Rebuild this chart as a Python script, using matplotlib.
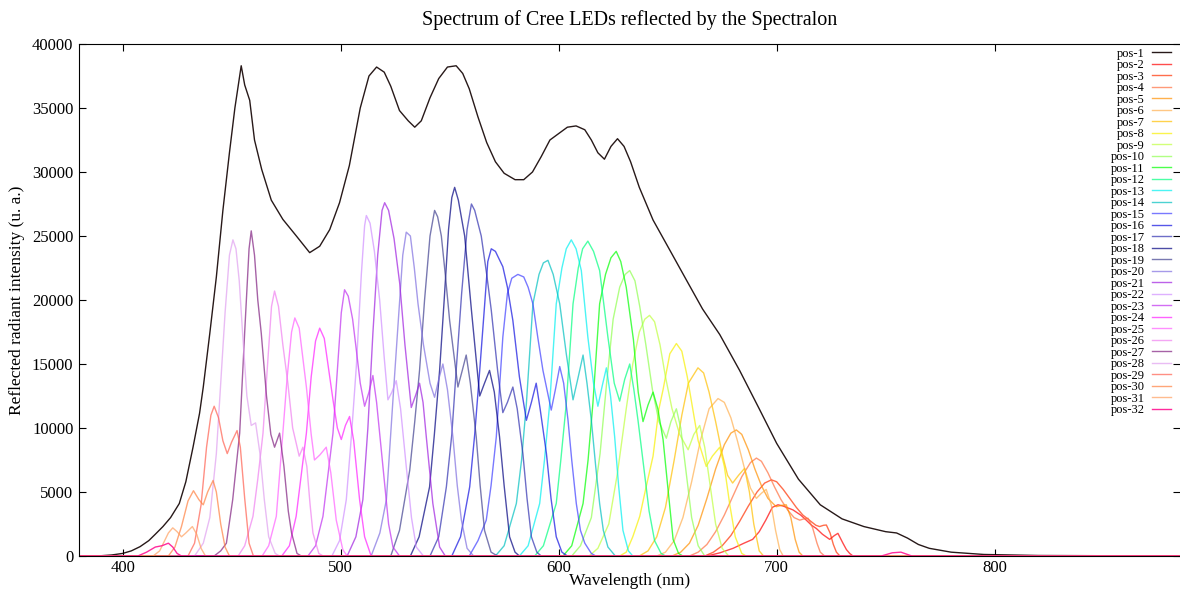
import matplotlib
matplotlib.use("Agg")
import matplotlib.pyplot as plt

plt.rcParams["font.family"] = ["Liberation Serif", "DejaVu Serif"]

# wavelength (nm) / reflected intensity (u. a.)
wl_01 = [380, 390, 395, 400, 404, 408, 412, 415, 418.5, 422, 426, 429, 432.3, 435.3, 437, 440, 443, 446,
         449, 451.5, 454.4, 456, 458.3, 460.5, 463.8, 468.2, 473.5, 479.7, 485.8, 490.4, 495, 499.5, 504,
         509, 513, 516.5, 520, 523, 527, 531, 534, 537, 541, 545, 549, 553, 556, 559, 563, 567, 571, 575,
         580, 584, 588, 592, 596, 600, 604, 608, 612, 615, 618, 621, 624, 627, 630, 633, 637, 643.3, 650,
         658.6, 666, 673.9, 683, 692, 700, 710, 720, 730, 740, 750, 755, 760, 765, 770, 780, 795, 820, 885]
iv_01 = [0, 20, 80, 200, 400, 730, 1200, 1700, 2300, 3000, 4100, 5800, 8500, 11150, 13200, 17400, 21800, 27000,
         31500, 35000, 38300, 36800, 35600, 32500, 30200, 27800, 26300, 25000, 23700, 24200, 25500, 27600, 30500,
         35000, 37500, 38200, 37800, 36700, 34800, 34000, 33500, 34000, 35800, 37300, 38200, 38300, 37700, 36500,
         34300, 32300, 30800, 29900, 29400, 29400, 30000, 31200, 32500, 33000, 33500, 33600, 33300, 32500, 31500,
         31000, 32000, 32600, 32000, 30800, 28800, 26250, 24200, 21560, 19300, 17300, 14500, 11500, 8800, 6000,
         4000, 2900, 2300, 1900, 1800, 1400, 900, 600, 300, 120, 40, 0]

wl_02 = [380, 668, 674, 680, 685, 689, 692, 695, 698, 700.6, 703, 707.5, 711, 713.6, 716, 718.2, 721, 724.3,
         726.5, 728.1, 730.4, 732, 733.5, 735, 885]
iv_02 = [0, 0, 250, 600, 1000, 1300, 1900, 2800, 3800, 4000, 3900, 3600, 3200, 2800, 2400, 2150, 1700, 1300,
         1600, 1770, 1000, 500, 200, 0, 0]

wl_03 = [380, 667, 671, 675, 679, 683, 687, 691, 694.5, 697.6, 700, 703, 706, 709, 712, 715, 718, 719.7, 721.5,
         722.8, 724.5, 726, 727.4, 729, 885]
iv_03 = [0, 0, 300, 800, 1600, 2700, 3900, 5000, 5700, 5950, 5800, 5200, 4500, 3800, 3200, 2800, 2400, 2300, 2400,
         2420, 1800, 900, 300, 0, 0]

wl_04 = [380, 660, 664, 668, 672, 676, 680, 684, 688, 690.7, 693, 696, 699, 702, 705, 708, 710.6, 712.5, 714.4,
         716.5, 718.5, 720, 722, 885]
iv_04 = [0, 0, 300, 900, 1900, 3200, 4700, 6200, 7300, 7650, 7400, 6500, 5400, 4400, 3600, 3000, 2800, 2900, 2950,
         2200, 1000, 300, 0, 0]

wl_05 = [380, 652, 656, 660, 664, 668, 672, 676, 679, 681.5, 684, 687, 690, 693, 696, 699.8, 702, 704.4, 706.5,
         708.5, 710.3, 712, 885]
iv_05 = [0, 0, 300, 1000, 2400, 4500, 6800, 8700, 9600, 9850, 9500, 8300, 6800, 5500, 4500, 3850, 3950, 4000, 3000,
         1300, 300, 0, 0]

wl_06 = [380, 645, 649, 653, 657, 661, 665, 669, 673.1, 676, 679, 682, 685, 688, 690.7, 693, 695.2, 697.5, 699.5,
         701.4, 703, 885]
iv_06 = [0, 0, 300, 1200, 3000, 5800, 9000, 11500, 12300, 12000, 10800, 9000, 7000, 5300, 4500, 4900, 5200, 4000,
         2000, 500, 0, 0]

wl_07 = [380, 637, 641, 645, 649, 653, 656.5, 659.5, 663.9, 666.5, 669, 672, 675, 677.5, 679.8, 682.5, 685.3, 687.5,
         689.5, 692, 694, 885]
iv_07 = [0, 0, 400, 1500, 3800, 7500, 11000, 13500, 14700, 14300, 12800, 10500, 8000, 6300, 5700, 6300, 6850, 5000,
         2500, 400, 0, 0]

wl_08 = [380, 628, 631, 634, 637.2, 640, 643.3, 646, 647.9, 651, 654, 656.5, 659, 661.5, 664, 667.7, 670.5, 673.9,
         676, 678.5, 681, 684, 686, 885]
iv_08 = [0, 0, 300, 1500, 3100, 5300, 7800, 11500, 13000, 15800, 16600, 16000, 14000, 11500, 9000, 7000, 7800, 8500,
         7000, 4000, 1500, 200, 0, 0]

wl_09 = [380, 614, 618, 623, 627, 631, 634, 637, 639.5, 641.7, 644, 646.5, 649, 652, 655.5, 659.4, 662, 664.7, 667,
         669.5, 672, 675, 678, 885]
iv_09 = [0, 0, 600, 2500, 6500, 11500, 15000, 17500, 18500, 18800, 18300, 16500, 14000, 11500, 9500, 8300, 9500,
         10200, 8500, 5500, 2500, 600, 0, 0]

wl_10 = [380, 606, 610, 615, 619, 622, 625, 628, 630.5, 632.6, 635, 637.2, 640, 643, 646, 649.4, 651.5, 654, 656,
         658.5, 661, 664, 667, 885]
iv_10 = [0, 0, 800, 3000, 8000, 13500, 18500, 21000, 22000, 22300, 21500, 19500, 16500, 13000, 10500, 9200, 10500,
         11500, 10000, 6500, 3000, 800, 0, 0]

wl_11 = [380, 602, 606, 611.2, 613.5, 615.7, 618.8, 621.5, 624, 626.4, 628.5, 631, 634.3, 636.5, 638.7, 641, 643.3,
         645.5, 647.9, 650, 652.5, 655, 657, 885]
iv_11 = [0, 0, 800, 4100, 7500, 11900, 19700, 22000, 23300, 23800, 23000, 21000, 16900, 12800, 10500, 11800, 12800,
         11500, 9100, 5500, 1300, 200, 0, 0]

wl_12 = [380, 589, 593, 598.9, 601, 603.5, 606.6, 609, 611, 613.4, 616, 618.8, 622.6, 625.5, 628, 630.3, 632.6,
         634.5, 636.4, 639, 641.5, 644, 647, 649, 885]
iv_12 = [0, 0, 800, 4100, 7500, 11900, 19700, 22500, 24000, 24600, 23800, 22300, 17100, 13500, 12100, 13800, 15000,
         13000, 10600, 7000, 3500, 1200, 200, 0, 0]

wl_13 = [380, 582, 586, 591.3, 593.5, 595.9, 598.9, 601.5, 603.5, 605.8, 608, 610.4, 613.4, 616, 618, 620, 621.9,
         623.8, 625.7, 627.5, 629.5, 632, 634, 885]
iv_13 = [0, 0, 800, 4100, 7500, 11900, 19700, 22500, 24000, 24700, 24000, 22300, 17100, 13500, 11700, 13300, 14700,
         12500, 9300, 5500, 2000, 400, 0, 0]

wl_14 = [380, 571, 575, 580.6, 583, 585.2, 588.2, 591, 593, 595.1, 597.5, 600.5, 603.5, 606.6, 609, 611.2, 613, 615,
         617, 618.8, 620.5, 622.6, 626, 885]
iv_14 = [0, 0, 800, 4100, 7500, 11900, 19700, 22000, 22900, 23100, 22000, 19700, 15800, 12200, 14000, 15700, 13500,
         10600, 7000, 4100, 2000, 700, 0, 0]

wl_15 = [380, 559, 563, 566.8, 569, 571.4, 574.4, 576.5, 578.5, 581.3, 584, 586, 588.2, 590.5, 592.8, 596.6, 598.5,
         600.5, 602.3, 604.3, 606, 608.1, 610, 612, 615, 617, 885]
iv_15 = [0, 0, 1200, 2800, 5500, 9300, 17100, 20500, 21700, 22000, 21800, 21000, 19700, 17000, 14500, 11400, 13000,
         14800, 13500, 10600, 7500, 4100, 2000, 1000, 200, 0, 0]

wl_16 = [380, 551, 555, 559.2, 561.5, 563.8, 566, 567.5, 569.1, 571, 574.4, 576.5, 579, 582, 585.2, 587.5, 589.7,
         591.5, 594.4, 596.5, 598.9, 601.5, 604, 885]
iv_16 = [0, 0, 1500, 5400, 9500, 14500, 19500, 23000, 24000, 23800, 22600, 21000, 18400, 14000, 10600, 12000, 13500,
         11500, 8000, 4500, 1500, 300, 0, 0]

wl_17 = [380, 541, 545, 548.5, 551, 553, 555.5, 558, 560, 561.5, 564.5, 567, 569.1, 572, 574.4, 576.5, 579, 581,
         583.6, 585.5, 587.5, 590, 592, 885]
iv_17 = [0, 0, 1500, 5400, 9500, 14500, 20500, 25500, 27500, 27000, 25000, 22000, 19200, 14500, 11200, 12000, 13200,
         11500, 8000, 4500, 1500, 300, 0, 0]

wl_18 = [380, 532, 536, 540.8, 543, 545.4, 547.5, 549.5, 551, 552.3, 554, 556.9, 558.5, 560, 563.8, 566, 568.3,
         570.5, 572.9, 575, 577.5, 580, 582, 885]
iv_18 = [0, 0, 1500, 5400, 9500, 14500, 20000, 25500, 28000, 28800, 27800, 25000, 22000, 19200, 12500, 13500, 14500,
         12800, 9300, 5500, 1500, 300, 0, 0]

wl_19 = [380, 523, 527, 531.7, 534, 536.2, 538.5, 541, 543.1, 544.5, 546.2, 548, 550, 553.8, 555.8, 557.6, 559.5,
         562.2, 564, 566, 569, 572, 885]
iv_19 = [0, 0, 2000, 6700, 10500, 14500, 20000, 25000, 27000, 26500, 25000, 22000, 18400, 13200, 14500, 15700, 13500,
         9300, 5500, 2000, 300, 0, 0]

wl_20 = [380, 514, 518, 521, 524, 526.5, 528.5, 530.1, 532, 533.8, 535.5, 538, 541, 543.1, 545, 546.9, 549, 551.5,
         553.5, 555.4, 558, 561, 885]
iv_20 = [0, 0, 1800, 4400, 12200, 18500, 23500, 25300, 25000, 22500, 19700, 16500, 13500, 12400, 13800, 15000, 13000,
         9300, 5500, 2800, 600, 0, 0]

wl_21 = [380, 503, 507, 510.2, 512.5, 514.8, 517, 519, 520.2, 522, 524.5, 527.1, 529.5, 532.4, 534.5, 536.2, 537.8,
         539.3, 542.3, 545.4, 548, 885]
iv_21 = [0, 0, 1500, 4400, 10000, 17400, 23500, 27000, 27600, 27000, 24800, 21300, 16500, 11600, 12600, 13500, 12000,
         9300, 4100, 700, 0, 0]

wl_22 = [380, 496, 499.5, 502.6, 505, 507.2, 509.5, 511, 511.8, 513.5, 515.5, 517.9, 520, 521.7, 523.5, 525.5, 527.5,
         530.1, 532.5, 534.7, 538, 885]
iv_22 = [0, 0, 1200, 4400, 9500, 14800, 22000, 25800, 26600, 26000, 23800, 20000, 15500, 12200, 12800, 13700, 11500,
         7000, 3000, 700, 0, 0]

wl_23 = [380, 485, 488.5, 491.9, 496.5, 498.5, 500.3, 501.8, 503.5, 505.5, 507.2, 509, 511, 513, 514.8, 516.5, 519.4,
         522, 524, 527, 885]
iv_23 = [0, 0, 800, 3100, 9600, 14500, 19000, 20800, 20300, 18500, 16100, 13500, 11700, 12800, 14100, 12000, 7000,
         2500, 700, 0, 0]

wl_24 = [380, 473, 476.5, 479.6, 484.3, 486.5, 488.5, 490.4, 492.5, 496.5, 498.5, 500.3, 502.2, 504.1, 506, 508.7,
         511, 514, 885]
iv_24 = [0, 0, 800, 3100, 9600, 14000, 16800, 17800, 17000, 12200, 10000, 9100, 10200, 10900, 9000, 4400, 1500, 0, 0]

wl_25 = [380, 464, 467, 470.5, 473.5, 475.5, 477.5, 479, 481, 484.3, 486.5, 488, 490.5, 493.4, 495.5, 498, 501, 503,
         885]
iv_25 = [0, 0, 800, 3100, 9600, 14000, 17500, 18600, 17800, 13200, 9500, 7500, 7900, 8500, 6500, 2800, 500, 0, 0]

wl_26 = [380, 453, 456, 459.8, 462, 464.4, 466.5, 468.3, 469.7, 471.5, 473.5, 475.8, 478, 481, 482.7, 484.5, 486,
         487.3, 490, 492, 885]
iv_26 = [0, 0, 800, 3100, 6000, 9600, 15000, 19500, 20700, 19500, 16500, 13500, 10000, 7800, 8500, 7000, 4000, 1800,
         200, 0, 0]

wl_27 = [380, 442, 445, 447.6, 450.5, 453.7, 456, 458, 459, 460.5, 462, 463.6, 466, 468, 469.7, 472, 474, 476, 477.5,
         480, 482, 885]
iv_27 = [0, 0, 400, 1000, 4400, 9600, 17500, 24000, 25400, 23500, 20000, 17400, 12500, 9500, 8500, 9600, 7000, 3500,
         1800, 200, 0, 0]

wl_28 = [380, 433, 437, 440, 443, 445, 447, 449, 450.6, 452, 453.5, 455, 457, 459, 461, 463, 465, 467, 470, 472, 885]
iv_28 = [0, 0, 1000, 3000, 8000, 13500, 19000, 23500, 24700, 24000, 21500, 17500, 12500, 10200, 10400, 8000, 4400,
         1500, 200, 0, 0]

wl_29 = [380, 430, 433, 436, 438.5, 440.5, 442, 444, 446, 448, 450, 452.5, 454, 456, 458, 460, 885]
iv_29 = [0, 0, 1000, 4000, 8500, 11000, 11700, 10800, 9000, 8000, 8900, 9800, 8500, 4500, 1000, 0, 0]

wl_30 = [380, 421, 424, 427, 430, 432.5, 435, 437, 439, 441.5, 443, 445, 447, 449, 885]
iv_30 = [0, 0, 700, 2300, 4300, 5100, 4400, 4000, 5000, 5900, 5000, 2500, 700, 0, 0]

wl_31 = [380, 414, 417, 419, 421, 423, 425, 427, 429, 432, 434, 436, 438, 885]
iv_31 = [0, 0, 400, 1100, 1800, 2200, 1900, 1500, 1800, 2300, 1700, 600, 0, 0]

wl_32 = [380, 407, 411, 415, 418, 421, 423, 425, 427, 748, 753, 757, 762, 885]
iv_32 = [0, 0, 300, 700, 800, 1000, 700, 200, 0, 0, 250, 300, 0, 0]

colors = ["#100000", "#ff0000", "#ff3000", "#ff7040", "#ff9000", "#ffb050", "#ffc000", "#f8f000",
          "#c0ff40", "#90ff50", "#00ff00", "#00ff80", "#00f0f0", "#00c0c0", "#4040ff", "#1010e0",
          "#3030b0", "#000080", "#404090", "#8070e0", "#a020e0", "#d090ff", "#c030f0", "#ff20ff",
          "#ff60ff", "#f080f0", "#802080", "#e0a0f0", "#ff6050", "#ff8040", "#ffa060", "#ff1493"]

series = [(wl_01, iv_01), (wl_02, iv_02), (wl_03, iv_03), (wl_04, iv_04), (wl_05, iv_05), (wl_06, iv_06),
          (wl_07, iv_07), (wl_08, iv_08), (wl_09, iv_09), (wl_10, iv_10), (wl_11, iv_11), (wl_12, iv_12),
          (wl_13, iv_13), (wl_14, iv_14), (wl_15, iv_15), (wl_16, iv_16), (wl_17, iv_17), (wl_18, iv_18),
          (wl_19, iv_19), (wl_20, iv_20), (wl_21, iv_21), (wl_22, iv_22), (wl_23, iv_23), (wl_24, iv_24),
          (wl_25, iv_25), (wl_26, iv_26), (wl_27, iv_27), (wl_28, iv_28), (wl_29, iv_29), (wl_30, iv_30),
          (wl_31, iv_31), (wl_32, iv_32)]

fig = plt.figure(figsize=(11.8, 5.93), dpi=100)
ax = fig.add_axes([79 / 1180, 1 - 556 / 593, 1 - 79 / 1180, 512 / 593])

for i, (wl, iv) in enumerate(series):
    a = 0.9 if i in (0, 31) else 0.7
    ax.plot(wl, iv, color=colors[i], lw=1.0, alpha=a, label="pos-%d" % (i + 1))

ax.set_xlim(380, 885)
ax.set_ylim(0, 40000)
ax.set_xticks([400, 500, 600, 700, 800])
ax.set_yticks(range(0, 40001, 5000))
ax.tick_params(direction="in", top=True, right=True, length=5, labelsize=12, pad=4)
ax.tick_params(axis="x", pad=3)
ax.spines["right"].set_visible(False)

ax.set_title("Spectrum of Cree LEDs reflected by the Spectralon", fontsize=14.5, pad=14)
ax.set_xlabel("Wavelength (nm)", fontsize=12.5, labelpad=-2)
ax.set_ylabel("Reflected radiant intensity (u. a.)", fontsize=12.5, labelpad=5)

ax.legend(loc="upper right", bbox_to_anchor=(0.995, 1.0), frameon=False, markerfirst=False,
          fontsize=9, handlelength=1.5, handletextpad=0.6, labelspacing=-0.04,
          borderaxespad=0.1, borderpad=0.2)

#plt.show()
fig.savefig("out.png", dpi=100)
